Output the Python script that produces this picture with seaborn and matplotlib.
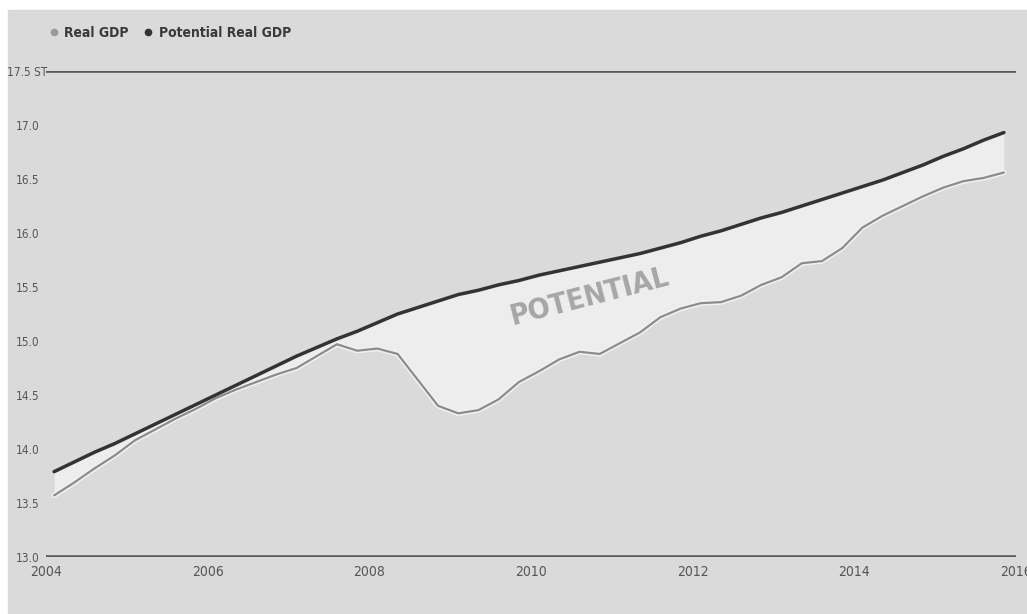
import numpy as np
import pandas as pd
import matplotlib
matplotlib.use("Agg")
import matplotlib.pyplot as plt
import matplotlib.patheffects as pe
from matplotlib import font_manager as fm
from matplotlib.lines import Line2D
from matplotlib.patches import Rectangle
import seaborn as sns

# Quarterly observations, 2004Q1 - 2015Q4 (trillions of chained dollars)
quarters = [f"{y}Q{q}" for y in range(2004, 2016) for q in range(1, 5)]

real_gdp = [
    13.57, 13.69, 13.82, 13.94, 14.08, 14.18, 14.28, 14.37,
    14.47, 14.55, 14.62, 14.69, 14.75, 14.86, 14.97, 14.91,
    14.93, 14.88, 14.64, 14.40, 14.33, 14.36, 14.46, 14.62,
    14.72, 14.83, 14.90, 14.88, 14.98, 15.08, 15.22, 15.30,
    15.35, 15.36, 15.42, 15.52, 15.59, 15.72, 15.74, 15.86,
    16.05, 16.16, 16.25, 16.34, 16.42, 16.48, 16.51, 16.56,
]

potential_gdp = [
    13.79, 13.88, 13.97, 14.05, 14.14, 14.23, 14.32, 14.41,
    14.50, 14.59, 14.68, 14.77, 14.86, 14.94, 15.02, 15.09,
    15.17, 15.25, 15.31, 15.37, 15.43, 15.47, 15.52, 15.56,
    15.61, 15.65, 15.69, 15.73, 15.77, 15.81, 15.86, 15.91,
    15.97, 16.02, 16.08, 16.14, 16.19, 16.25, 16.31, 16.37,
    16.43, 16.49, 16.56, 16.63, 16.71, 16.78, 16.86, 16.93,
]

y_ticks = [13.0, 13.5, 14.0, 14.5, 15.0, 15.5, 16.0, 16.5, 17.0, 17.5]
y_tick_labels = ["13.0", "13.5", "14.0", "14.5", "15.0", "15.5",
                 "16.0", "16.5", "17.0", "17.5 ST"]
x_ticks = [2004, 2006, 2008, 2010, 2012, 2014, 2016]

# Quarter position on a decimal-year axis
periods = pd.PeriodIndex(quarters, freq="Q")
t = periods.year + (periods.quarter - 1) / 4 + 0.1

df = pd.DataFrame({
    "t": np.concatenate([t, t]),
    "gdp": real_gdp + potential_gdp,
    "series": ["Real GDP"] * len(t) + ["Potential Real GDP"] * len(t),
})

sns.set_theme(style="white")


def pick_narrow_font():
    """Return (family, stretch) of an installed condensed face, if any."""
    narrow_words = ("condensed", "narrow")
    for f in fm.fontManager.ttflist:
        st = str(f.stretch).lower()
        if any(w in f.name.lower() for w in narrow_words) or st in (
                "condensed", "semi-condensed", "extra-condensed", "ultra-condensed"):
            return f.name, f.stretch
    return None, None


narrow_family, narrow_stretch = pick_narrow_font()
if narrow_family:
    family = [narrow_family, "DejaVu Sans"]
    stretch = narrow_stretch
    k = 1.0
else:
    family = ["DejaVu Sans"]
    stretch = "normal"
    k = 0.8
plt.rcParams["font.family"] = family
plt.rcParams["font.stretch"] = stretch

BG = "#dadada"
FILL = "#ededed"
DARK = "#333333"
GRAY = "#8c8c8c"
TEXT = "#555555"

fig = plt.figure(figsize=(10.27, 6.14), dpi=100, facecolor="white")
fig.patches.append(Rectangle((8 / 1027, 0), 1, 1 - 10 / 614,
                             transform=fig.transFigure, color=BG, zorder=-10))

ax = fig.add_axes([46 / 1027, 1 - 557 / 614, (1016 - 46) / 1027, (557 - 71) / 614])
ax.set_facecolor("none")

ax.fill_between(t, real_gdp, potential_gdp, color=FILL, lw=0, zorder=1)

sns.lineplot(data=df, x="t", y="gdp", hue="series",
             palette={"Real GDP": GRAY, "Potential Real GDP": DARK},
             legend=False, ax=ax, zorder=3)
for line, w in zip(ax.lines, [1.6, 2.5]):
    line.set_linewidth(w)
ax.lines[0].set_path_effects([pe.Stroke(linewidth=3.8, foreground="#f2f2f2"), pe.Normal()])

for yv in (13.0, 17.5):
    ax.axhline(yv, color="#5a5a5a", lw=2.6, zorder=2)

ax.set_xlim(2004, 2016)
ax.set_ylim(13.0, 17.5)
ax.set_xticks(x_ticks)
ax.set_xticklabels([str(v) for v in x_ticks])
ax.set_yticks(y_ticks)
ax.set_yticklabels(y_tick_labels)
ax.tick_params(axis="y", length=0, pad=13.5, labelsize=8.5 * k, labelcolor=TEXT)
ax.tick_params(axis="x", length=0, pad=6, labelsize=10 * k, labelcolor=TEXT)
for lbl in ax.get_yticklabels():
    lbl.set_horizontalalignment("center")
for s in ax.spines.values():
    s.set_visible(False)
ax.set_xlabel("")
ax.set_ylabel("")

ax.text(2010.73, 15.41, "POTENTIAL", rotation=14.5, rotation_mode="anchor",
        ha="center", va="center", fontsize=21 * k,
        color="#a6a6a6", fontweight="bold", zorder=4)

handles = [
    Line2D([], [], ls="", marker="o", markersize=4.5, color="#9a9a9a"),
    Line2D([], [], ls="", marker="o", markersize=4.5, color=DARK),
]
fig.legend(handles, ["Real GDP", "Potential Real GDP"], loc="center left",
           bbox_to_anchor=(36 / 1027, 1 - 33 / 614), ncol=2, frameon=False,
           handletextpad=0.35, columnspacing=1.0, handlelength=0.8,
           prop={"family": family, "weight": "bold", "size": 10 * k,
                 "stretch": stretch},
           labelcolor="#3a3a3a")

fig.savefig("out.png", dpi=100, facecolor=fig.get_facecolor())
